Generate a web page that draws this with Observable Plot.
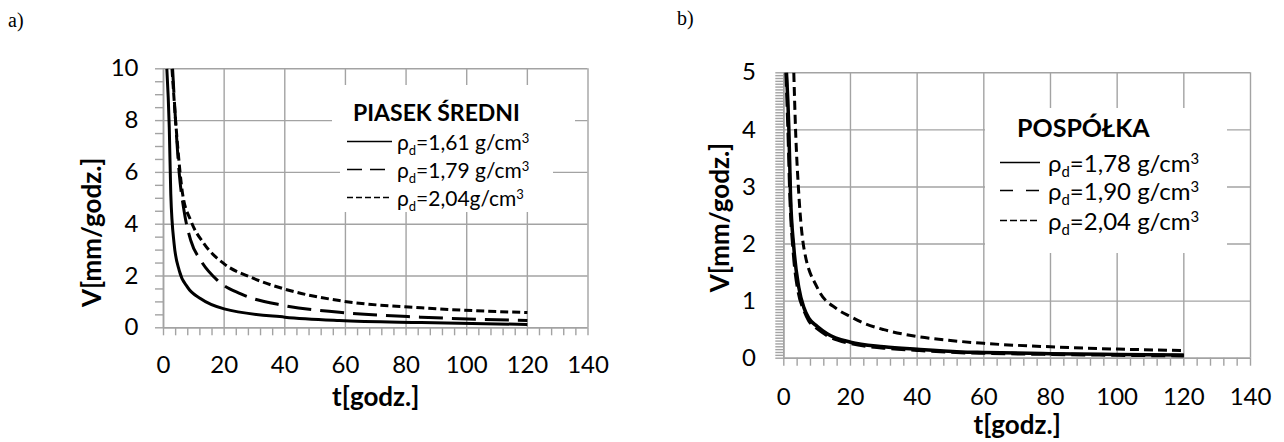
<!DOCTYPE html>
<html>
<head>
<meta charset="utf-8">
<script src="https://cdn.jsdelivr.net/npm/d3@7"></script>
<script src="https://cdn.jsdelivr.net/npm/@observablehq/plot@0.6"></script>
<style>
  body { margin: 0; background: #fff; }
  #wrap { position: relative; width: 1284px; height: 442px; overflow: hidden; font-family: Lato, sans-serif; color: #000; }
  .panel { position: absolute; top: 0; }
  .tag { position: absolute; font-family: "Liberation Serif", "Times New Roman", serif; font-size: 20px; line-height: 20px; }
  .box { position: absolute; background: #fff; }
  .row { position: absolute; white-space: nowrap; display: flex; align-items: center; transform: translateY(-50%); }
  .row svg { display: block; }
  .sub { font-size: 0.62em; position: relative; top: 0.35em; }
  .sup { font-size: 0.62em; position: relative; top: -0.55em; }
  .ttl { position: absolute; font-weight: 700; white-space: nowrap; transform: translateY(-50%); }
</style>
</head>
<body>
<div id="wrap">
  <div class="tag" style="left:8px;top:10px;">a)</div>
  <div class="tag" style="left:677px;top:8px;">b)</div>
  <div class="panel" id="pa" style="left:0px;"></div>
  <div class="panel" id="pb" style="left:640px;"></div>
  <div id="lega"></div>
  <div id="legb"></div>
</div>
<script>
// ---------- Data: a) PIASEK ŚREDNI ----------
const aTitle = "PIASEK ŚREDNI";
const aNames = ["1,61 g/cm", "1,79 g/cm", "2,04g/cm"];
const aT1 = [1.1, 1.9, 2.4, 3.5, 5.2, 7.9, 12.3, 20, 40, 58, 85, 120];
const aV1 = [10, 7.75, 5.17, 3.24, 2.21, 1.57, 1.12, 0.73, 0.41, 0.28, 0.2, 0.13];
const aT2 = [3.0, 4.1, 5.2, 6.8, 9, 12.3, 17.8, 25.5, 39.8, 58, 85, 120];
const aV2 = [10, 7.75, 5.95, 4.5, 3.37, 2.6, 1.83, 1.31, 0.86, 0.6, 0.41, 0.28];
const aT3 = [2.8, 4.6, 6.3, 9, 13.4, 20, 28.8, 39.8, 58, 85, 120];
const aV3 = [10, 7.1, 5.17, 4.14, 3.24, 2.47, 1.95, 1.5, 1.05, 0.77, 0.59];

// ---------- Data: b) POSPÓŁKA ----------
const bTitle = "POSPÓŁKA";
const bNames = ["1,78 g/cm", "1,90 g/cm", "2,04 g/cm"];
const bT1 = [0.8, 1.5, 2, 3, 4.5, 6, 7.5, 10, 13, 20, 30, 40, 53, 60, 80, 100, 120];
const bV1 = [5, 4.05, 2.88, 1.94, 1.24, 0.89, 0.7, 0.56, 0.43, 0.28, 0.2, 0.155, 0.11, 0.1, 0.08, 0.065, 0.055];
const bT2 = [0.7, 1.3, 1.9, 2.9, 4.4, 6, 7.5, 10, 13, 20, 30, 40, 53, 60, 80, 100, 120];
const bV2 = [5, 4.0, 2.8, 1.85, 1.15, 0.85, 0.66, 0.52, 0.4, 0.26, 0.18, 0.14, 0.1, 0.09, 0.07, 0.055, 0.045];
const bT3 = [3, 3.5, 4.5, 6, 10, 16, 20, 23, 30, 40, 50, 60, 80, 100, 120];
const bV3 = [5, 4.05, 2.88, 1.94, 1.24, 0.86, 0.73, 0.64, 0.5, 0.38, 0.31, 0.26, 0.2, 0.16, 0.135];

// ---------- Axis ticks ----------
const xMajor = [0, 20, 40, 60, 80, 100, 120, 140];
const xMinor = d3.range(0, 140.001, 4);
const aYMajor = [0, 2, 4, 6, 8, 10];
const aYMinor = d3.range(0, 10.001, 0.5);
const bYMajor = [0, 1, 2, 3, 4, 5];
const bYMinor = d3.range(0, 5.0001, 0.05);

const xTitle = "t[godz.]";
const yTitle = "V[mm/godz.]";

const GRID = "#a3a3a3";
const rows = (ts, vs) => ts.map((t, i) => ({t, v: vs[i]}));

function makeChart(o) {
  const lines = o.series.map(s => Plot.line(rows(s.t, s.v), {
    x: "t", y: "v", stroke: "#000", strokeWidth: s.w, strokeDasharray: s.dash,
    curve: "monotone-x", strokeLinecap: "butt", strokeLinejoin: "round"
  }));
  return Plot.plot({
    width: o.width, height: o.height,
    marginLeft: o.ml, marginRight: o.mr, marginTop: o.mt, marginBottom: o.mb,
    style: {fontFamily: "Lato, sans-serif", fontSize: "24px", color: "#000", background: "transparent"},
    x: {domain: [0, 140]},
    y: {domain: [0, o.yMax]},
    marks: [
      Plot.gridX(xMajor, {stroke: GRID, strokeOpacity: 1, strokeWidth: 1.4}),
      Plot.gridY(o.yMajor, {stroke: GRID, strokeOpacity: 1, strokeWidth: 1.4}),
      Plot.axisX({ticks: xMinor, tickSize: 8, stroke: GRID, strokeWidth: 1.4, fill: "none", label: null}),
      Plot.axisY({ticks: o.yMinor, tickSize: 8, stroke: GRID, strokeWidth: 1.4, fill: "none", label: null}),
      Plot.axisX({ticks: xMajor, tickSize: 0, tickPadding: o.xPad, tickFormat: d => String(d), label: null, fontSize: 24}),
      Plot.axisY({ticks: o.yMajor, tickSize: 0, tickPadding: o.yPad, tickFormat: d => String(d), label: null, fontSize: 24}),
      Plot.ruleX([0], {stroke: GRID, strokeWidth: 1.6}),
      Plot.ruleY([0], {stroke: GRID, strokeWidth: 1.6}),
      ...lines,
      Plot.text([xTitle], {text: d => d, frameAnchor: "bottom", textAnchor: "middle", lineAnchor: "middle", dy: o.xTitleDy, fontWeight: "bold", fontSize: 26, fill: "#000"}),
      Plot.text([yTitle], {text: d => d, frameAnchor: "left", textAnchor: "middle", lineAnchor: "middle", rotate: -90, dx: o.yTitleDx, dy: o.yTitleDy, fontWeight: "bold", fontSize: 26, fill: "#000"})
    ]
  });
}

document.getElementById("pa").appendChild(makeChart({
  width: 640, height: 442, ml: 163, mr: 52.5, mt: 68.3, mb: 114.7,
  yMax: 10, yMajor: aYMajor, yMinor: aYMinor, xPad: 28, yPad: 25,
  xTitleDy: 70, yTitleDx: -70.5, yTitleDy: 34,
  series: [
    {t: aT1, v: aV1, w: 3, dash: null},
    {t: aT2, v: aV2, w: 3, dash: "24,9"},
    {t: aT3, v: aV3, w: 3, dash: "8,4"}
  ]
}));

document.getElementById("pb").appendChild(makeChart({
  width: 644, height: 442, ml: 143.3, mr: 34, mt: 72.3, mb: 84.3,
  yMax: 5, yMajor: bYMajor, yMinor: bYMinor, xPad: 30, yPad: 28,
  xTitleDy: 67, yTitleDx: -63, yTitleDy: 2,
  series: [
    {t: bT1, v: bV1, w: 3.5, dash: null},
    {t: bT2, v: bV2, w: 3.5, dash: "14,6"},
    {t: bT3, v: bV3, w: 3, dash: "9,5"}
  ]
}));

// ---------- Legends (overlay boxes) ----------
function sample(dash, w, len) {
  return `<svg width="${len}" height="10"><line x1="0" y1="5" x2="${len}" y2="5" stroke="#000" stroke-width="${w}" ${dash ? `stroke-dasharray="${dash}"` : ""}/></svg>`;
}
function entry(name) {
  return `<span>ρ<span class="sub">d</span>=${name}<span class="sup">3</span></span>`;
}
function legend(el, cfg) {
  let html = "";
  cfg.boxes.forEach(b => { html += `<div class="box" style="left:${b[0]}px;top:${b[1]}px;width:${b[2]}px;height:${b[3]}px;"></div>`; });
  html += `<div class="ttl" style="left:${cfg.titleX}px;top:${cfg.titleY}px;font-size:${cfg.titleSize}px;">${cfg.title}</div>`;
  cfg.names.forEach((n, i) => {
    html += `<div class="row" style="left:${cfg.rowX}px;top:${cfg.rowY[i]}px;font-size:${cfg.size}px;">${sample(cfg.dashes[i], 1.3, cfg.sampleLen)}<span style="margin-left:${cfg.gap}px">${entry(n)}</span></div>`;
  });
  el.innerHTML = html;
}
legend(document.getElementById("lega"), {
  boxes: [[332, 85, 243, 43], [340, 128, 213, 84]],
  title: aTitle, titleX: 353, titleY: 112, titleSize: 23,
  names: aNames, rowX: 347, rowY: [141, 169, 197], size: 21,
  dashes: [null, "15,8", "6,3"], sampleLen: 45, gap: 5
});
legend(document.getElementById("legb"), {
  boxes: [[985, 108, 242, 145]],
  title: bTitle, titleX: 1017, titleY: 127, titleSize: 25,
  names: bNames, rowX: 1000, rowY: [162, 190, 220], size: 24,
  dashes: [null, "13,13", "7,3"], sampleLen: 40, gap: 8
});
</script>
</body>
</html>
